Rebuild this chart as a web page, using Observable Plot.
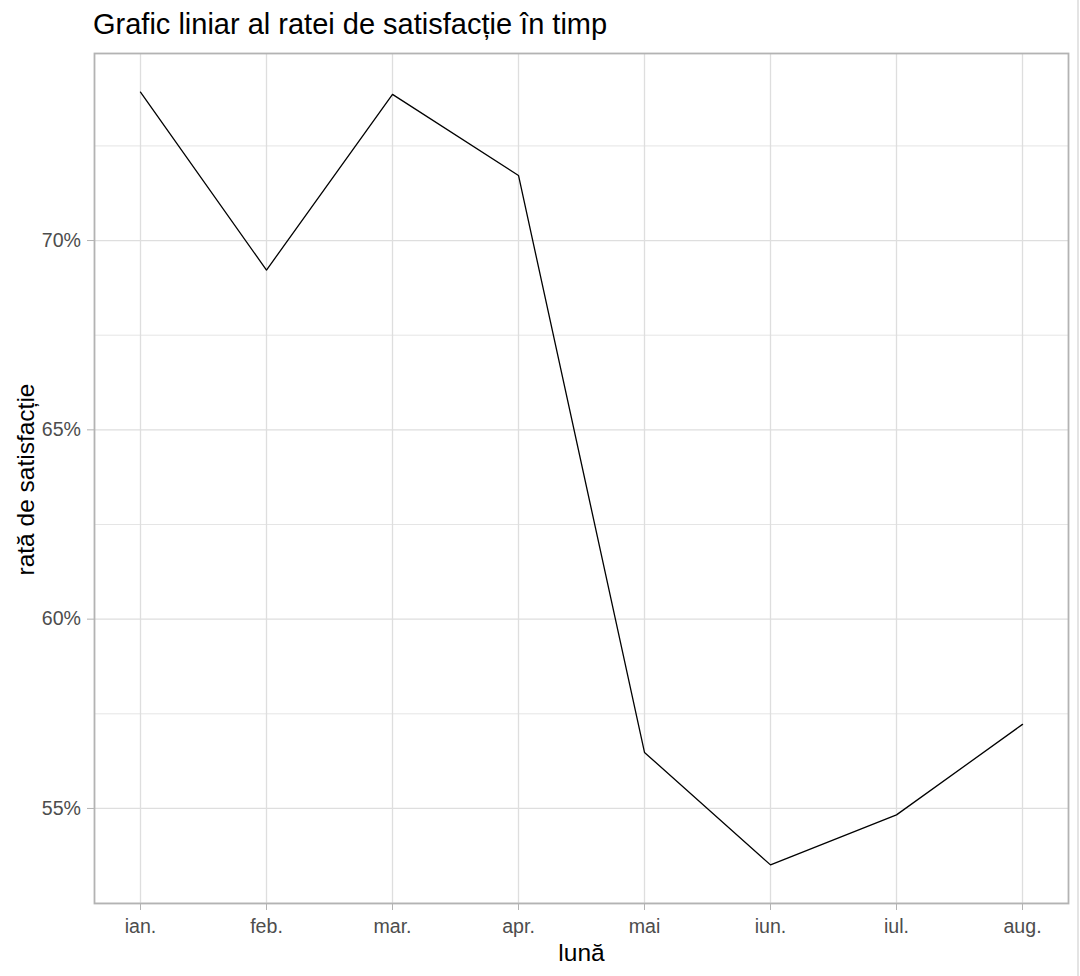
<!DOCTYPE html>
<html>
<head>
<meta charset="utf-8">
<script src="https://cdn.jsdelivr.net/npm/d3@7"></script>
<script src="https://cdn.jsdelivr.net/npm/@observablehq/plot@0.6"></script>
<style>
  html, body { margin: 0; padding: 0; background: #fff; }
  #wrap { position: relative; width: 1080px; height: 976px; overflow: hidden; font-family: "Liberation Sans", Arial, sans-serif; }
  #wrap::after { content: ""; position: absolute; right: 1px; top: 0; width: 2px; height: 976px; background: #e4e4e4; }
  #title { position: absolute; left: 93px; top: 10px; font-size: 29px; line-height: 1; color: #000; white-space: nowrap; }
  #chart { position: absolute; left: 0; top: 0; }
  g[aria-label="x-axis tick label"] text, g[aria-label="y-axis tick label"] text { font-size: 19.6px; }
</style>
</head>
<body>
<div id="wrap">
  <div id="chart"></div>
  <div id="title">Grafic liniar al ratei de satisfacție în timp</div>
</div>
<script>
const months = ["ian.", "feb.", "mar.", "apr.", "mai", "iun.", "iul.", "aug."];
const satisfaction = [73.92, 69.22, 73.86, 71.72, 56.48, 53.51, 54.83, 57.22];
const majorTicks = [55, 60, 65, 70];
const minorTicks = [52.5, 57.5, 62.5, 67.5, 72.5];
const xTitle = "lună";
const yTitle = "rată de satisfacție";

const data = months.map((m, i) => ({month: m, value: satisfaction[i]}));
const [lo, hi] = d3.extent(satisfaction);
const pad = (hi - lo) * 0.05;

const W = 1080, H = 976;
const mL = 94, mR = 12, mT = 53, mB = 73;

const chart = Plot.plot({
  width: W,
  height: H,
  marginLeft: mL,
  marginRight: mR,
  marginTop: mT,
  marginBottom: mB,
  style: {fontFamily: '"Liberation Sans", Arial, sans-serif', fontSize: "19.6px", background: "#fff"},
  x: {type: "point", domain: months, padding: 0.35},
  y: {domain: [lo - pad, hi + pad]},
  marks: [
    Plot.ruleY(minorTicks, {stroke: "#dedede", strokeWidth: 0.8}),
    Plot.ruleY(majorTicks, {stroke: "#dedede", strokeWidth: 1.3}),
    Plot.ruleX(months, {stroke: "#dedede", strokeWidth: 1.3}),
    Plot.line(data, {x: "month", y: "value", stroke: "#000", strokeWidth: 1.3}),
    Plot.frame({stroke: "#b3b3b3", strokeWidth: 1.8}),
    Plot.axisX({ticks: months, tickSize: 7, tickPadding: 9, fontSize: 19.6, color: "#4d4d4d", stroke: "#b3b3b3", label: null}),
    Plot.axisY({ticks: majorTicks, tickFormat: d => d + "%", tickSize: 7, tickPadding: 6.5, fontSize: 19.6, color: "#4d4d4d", stroke: "#b3b3b3", label: null}),
    Plot.text([xTitle], {text: d => d, frameAnchor: "bottom", textAnchor: "middle", lineAnchor: "middle", dy: 49.3, fontSize: 24.5, fill: "#000"}),
    Plot.text([yTitle], {text: d => d, frameAnchor: "left", textAnchor: "middle", rotate: -90, lineAnchor: "middle", dx: -68.4, dy: 1, fontSize: 24.5, fill: "#000"})
  ]
});
document.getElementById("chart").appendChild(chart);
</script>
</body>
</html>
